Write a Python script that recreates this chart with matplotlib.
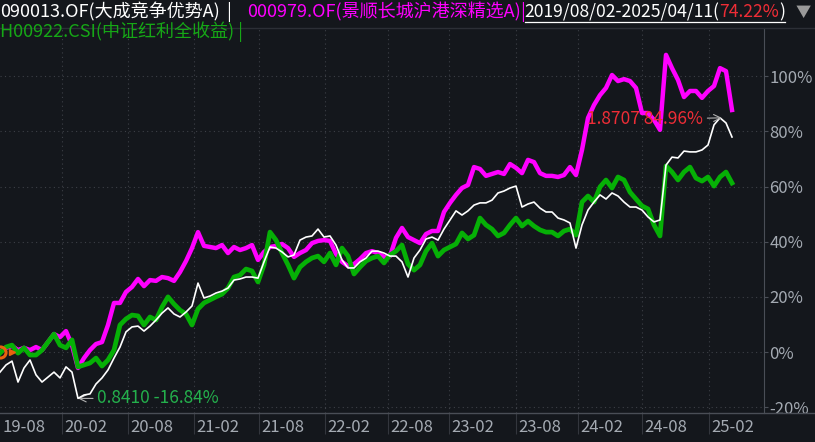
import numpy as np
import matplotlib.pyplot as plt
from matplotlib import transforms
from matplotlib.lines import Line2D

plt.rcParams['font.family'] = ['Noto Sans CJK SC', 'DejaVu Sans']

# 区间涨跌幅(%)，约每两周取一个点，2019/08/02 - 2025/04/11
fund_a = [-7.3, -4.7, -3.3, -10.9, -5.8, -2.9, -8.3, -10.9, -9.1, -7.3,
          -9.4, -5.4, -7.3, -16.84, -15.6, -15.2, -11.6, -9.4, -6.5, -2.2,
          1.8, 7.3, 9.1, 9.4, 7.6, 9.4, 11.6, 14.1, 16.0, 13.8,
          12.7, 14.5, 16.7, 25.0, 19.6, 20.3, 21.4, 22.1, 23.2, 26.1,
          26.5, 27.2, 27.2, 26.8, 32.7, 38.1, 37.7, 36.3, 34.5, 35.2,
          40.6, 41.7, 42.1, 44.6, 41.7, 42.1, 38.8, 33.4, 30.5, 30.5,
          32.7, 34.1, 36.6, 36.6, 35.9, 34.8, 34.8, 32.7, 27.2, 34.1,
          37.0, 41.0, 41.7, 40.6, 44.6, 47.9, 51.2, 49.7, 51.2, 53.3,
          54.1, 54.1, 55.1, 57.7, 58.4, 59.5, 60.2, 52.6, 53.7, 54.4,
          52.2, 50.8, 50.8, 48.6, 47.9, 46.8, 37.7, 46.1, 51.5, 54.4,
          57.0, 55.5, 57.7, 56.6, 54.4, 52.6, 52.6, 51.5, 49.0, 47.2,
          47.9, 67.8, 70.7, 70.4, 72.9, 72.6, 72.6, 73.3, 75.1, 82.4,
          84.96, 83.1, 78.0]

fund_b = [0.0, 1.5, 2.2, 0.7, 1.5, 0.7, 1.8, 0.7, 3.6, 6.5,
          5.4, 7.6, 2.5, -5.8, -2.2, 0.7, 2.9, 3.6, 9.8, 17.8,
          17.8, 21.8, 23.6, 26.5, 23.9, 26.1, 25.8, 27.2, 26.8, 25.8,
          29.0, 33.0, 37.7, 43.5, 38.5, 38.1, 37.7, 38.8, 35.9, 38.1,
          37.0, 37.7, 38.8, 33.4, 36.3, 38.1, 38.5, 39.2, 37.7, 34.5,
          35.9, 37.0, 39.5, 40.3, 40.6, 40.3, 35.6, 32.7, 31.2, 31.9,
          33.7, 35.9, 36.6, 35.9, 34.5, 34.8, 41.4, 45.0, 41.7, 40.6,
          39.5, 42.8, 43.9, 43.9, 50.8, 54.1, 57.0, 59.5, 60.6, 67.1,
          66.4, 63.9, 64.6, 65.3, 64.6, 68.2, 66.8, 64.9, 69.7, 68.9,
          64.9, 63.9, 63.9, 63.5, 64.2, 67.1, 64.2, 73.3, 84.9, 89.6,
          93.2, 95.8, 100.5, 98.3, 99.0, 98.3, 95.8, 86.7, 86.7, 84.2,
          80.6, 107.8, 103.0, 98.7, 92.5, 94.7, 94.7, 92.2, 94.7, 96.5,
          103.0, 101.9, 87.8]

index_c = [-0.4, 1.8, 2.5, -0.4, 1.5, -1.1, -1.1, 0.7, 3.6, 6.5,
           2.5, 1.5, 4.4, -5.4, -4.7, -4.0, -2.2, -5.1, -2.9, 0.7,
           9.8, 12.0, 13.4, 13.1, 9.8, 12.7, 11.6, 16.3, 20.0, 17.4,
           15.2, 13.8, 9.8, 15.6, 17.8, 18.9, 20.0, 21.0, 23.2, 27.2,
           27.9, 30.1, 29.4, 25.4, 31.6, 43.5, 40.6, 35.9, 31.6, 26.8,
           30.8, 32.7, 34.1, 34.8, 32.7, 35.9, 31.6, 37.7, 34.8, 28.3,
           30.8, 33.0, 34.1, 34.8, 32.3, 35.2, 36.6, 38.8, 31.9, 29.7,
           31.6, 36.6, 39.5, 34.8, 37.0, 38.1, 39.2, 43.2, 41.0, 42.4,
           48.6, 46.1, 44.6, 42.1, 43.2, 46.1, 48.6, 45.7, 47.5, 45.7,
           44.3, 43.5, 43.5, 42.1, 43.9, 44.6, 42.4, 54.4, 56.6, 54.4,
           59.9, 62.4, 59.5, 63.5, 62.4, 58.0, 55.5, 53.0, 51.9, 46.1,
           42.1, 67.5, 65.3, 62.4, 65.3, 67.1, 63.1, 62.0, 63.5, 60.2,
           63.5, 65.3, 61.3]

month_labels = ['19-08', '20-02', '20-08', '21-02', '21-08', '22-02',
                '22-08', '23-02', '23-08', '24-02', '24-08', '25-02']
month_starts = [0, 10.3, 21.3, 32.3, 43.2, 54.2, 64.7, 74.8, 86.0, 96.3, 107.0, 118.2]
y_ticks = [-20, 0, 20, 40, 60, 80, 100]

W, H = 815, 442
bg = '#14171c'
grid_c = '#3d4047'
axis_c = '#4a4e56'
label_c = '#a4aab2'

fig = plt.figure(figsize=(W / 100, H / 100), dpi=100, facecolor=bg)
ax = fig.add_axes([0, 29 / H, 764 / W, 385 / H], facecolor=bg)

x = np.arange(len(fund_a))
ax.plot(x, fund_b, color='#ff00ff', lw=3.2, solid_joinstyle='round', zorder=3)
ax.plot(x, index_c, color='#06b006', lw=3.4, solid_joinstyle='round', zorder=4)
ax.plot(x, fund_a, color='white', lw=1.2, zorder=5)

# 起点标记
ax.plot(0, 0, 'o', mfc='none', mec='#e8620e', ms=8, mew=2.2, zorder=6)
ax.plot(2, 0, '>', color='#e8620e', ms=5, zorder=6)

ax.set_xlim(0, 764 / 6)
ax.set_ylim(-22.13, 117.55)

# 网格
for yv in y_ticks:
    ax.axhline(yv, color=grid_c, lw=0.8, ls=(0, (1, 3)), zorder=1)
for xv in month_starts[1:]:
    ax.axvline(xv, color=grid_c, lw=0.8, ls=(0, (1, 3)), zorder=1)

# 右侧纵轴
for s in ['left', 'top', 'bottom']:
    ax.spines[s].set_visible(False)
ax.spines['right'].set_color(axis_c)
ax.yaxis.tick_right()
ax.set_yticks(y_ticks)
ax.set_yticklabels([f'{v}%' for v in y_ticks])
ax.tick_params(axis='y', colors=axis_c, labelcolor=label_c, labelsize=12,
               length=3, width=0.8, pad=1)

# 横轴
ax.set_xticks(month_starts[1:])
ax.set_xticklabels([])
ax.tick_params(axis='x', colors='#33363d', length=15, width=0.8, direction='out')
trans = transforms.blended_transform_factory(ax.transData, fig.transFigure)
trans = transforms.offset_copy(trans, fig=fig, x=2.5, y=0, units='dots')
for pos, lab in zip(month_starts, month_labels):
    ax.text(pos, 1 - 427 / H, lab, transform=trans, ha='left', va='center',
            color=label_c, fontsize=12, clip_on=False)

fig.add_artist(Line2D([0, 1], [1 - 413 / H, 1 - 413 / H], color=axis_c, lw=1))
fig.add_artist(Line2D([0, 1], [1 - 28 / H, 1 - 28 / H], color='#2c2f36', lw=1))

# 最大最小值标注
i_min = int(np.argmin(fund_a))
i_max = int(np.argmax(fund_a))
ax.annotate('0.8410 -16.84%', xy=(i_min, fund_a[i_min]), xytext=(i_min + 3.2, fund_a[i_min]),
            color='#24b04c', fontsize=12.5, ha='left', va='center',
            arrowprops=dict(arrowstyle='->', color='#b0b0b0', lw=0.8, shrinkA=1, shrinkB=0))
ax.annotate('1.8707 84.96%', xy=(i_max + 0.3, fund_a[i_max]), xytext=(i_max - 2.8, fund_a[i_max] - 0.6),
            color='#ee2d36', fontsize=12.5, ha='right', va='center', zorder=7,
            arrowprops=dict(arrowstyle='->', color='#b0b0b0', lw=0.8, shrinkA=1, shrinkB=0))

# 顶部标题行
fig.canvas.draw()
rend = fig.canvas.get_renderer()


def put(x_px, y_px, s, color, size=13.0):
    t = fig.text(x_px / W, 1 - y_px / H, s, color=color, fontsize=size, ha='left', va='center')
    return t.get_window_extent(renderer=rend).x1


x1 = put(0, 12, '090013.OF(大成竞争优势A)', 'white')
put(x1 + 6, 12, '|', 'white')
x2 = put(247, 12, '000979.OF(景顺长城沪港深精选A)', '#ff00ff')
x3 = put(x2 - 1, 12, '|', '#ff00ff')
x4 = put(x3, 12, '2019/08/02-2025/04/11(', 'white', size=12.6)
x5 = put(x4, 12, '74.22%', '#ee2d36', size=12.6)
x6 = put(x5, 12, ')', 'white', size=12.6)
fig.add_artist(Line2D([x3 / W, x6 / W], [1 - 22 / H, 1 - 22 / H], color='white', lw=0.9))
put(796, 12, '▼', '#9a9a9a', size=11)
put(0, 32, 'H00922.CSI(中证红利全收益) |', '#16a716')

fig.savefig('out.png', dpi=100, facecolor=bg)
